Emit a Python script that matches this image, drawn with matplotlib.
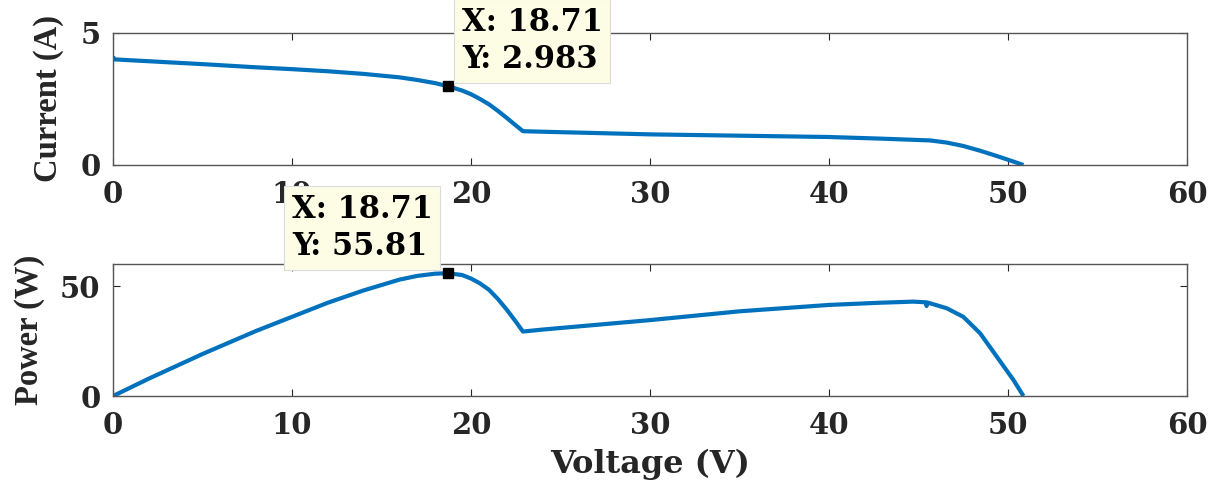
import matplotlib
matplotlib.use('Agg')
import matplotlib.pyplot as plt

# ── Data ──────────────────────────────────────────────────────────────────────

voltage_i = [0.0, 0.08, 2, 5, 8, 10, 12, 14, 16, 17, 18, 18.71, 19.5, 20, 20.5,
             21, 21.5, 22, 22.5, 22.9, 24, 30, 35, 40, 42.85, 45.65, 46.57,
             47.5, 48.44, 49.37, 50.3, 50.86]
current = [4.1, 4.0, 3.93, 3.82, 3.70, 3.63, 3.55, 3.45, 3.32, 3.22, 3.10,
           2.983, 2.82, 2.68, 2.50, 2.30, 2.05, 1.78, 1.50, 1.28, 1.26, 1.16,
           1.11, 1.06, 1.0, 0.93, 0.85, 0.72, 0.54, 0.34, 0.13, 0.0]

voltage_p = [0.0, 2, 5, 8, 10, 12, 14, 16, 17, 18, 18.71, 19.5, 20, 20.5, 21,
             21.5, 22, 22.5, 22.9, 24, 30, 35, 40, 42.85, 44.7, 45.4, 45.45,
             45.5, 46.57, 47.5, 48.44, 49.37, 50.3, 50.86]
power = [0.0, 7.9, 19.1, 29.6, 36.0, 42.4, 48.0, 52.9, 54.6, 55.6, 55.81,
         55.0, 53.4, 51.2, 48.3, 44.1, 39.2, 33.8, 29.3, 30.2, 34.5, 38.5,
         41.4, 42.4, 42.9, 42.6, 40.9, 42.5, 39.9, 36.0, 28.5, 17.9, 7.3, 0.0]

tip_v = 18.71
tip_i = 2.983
tip_p = 55.81

xticks = [0, 10, 20, 30, 40, 50, 60]

# ── Style ─────────────────────────────────────────────────────────────────────

LINE_COLOR = '#0072BD'
AXIS_COLOR = '#262626'
TIP_BG = '#fdfde6'
FONT = 'DejaVu Serif'
LABEL_FONT = 'Liberation Serif'

plt.rcParams.update({
    'font.family': FONT,
    'font.weight': 'bold',
    'font.size': 21,
    'axes.linewidth': 1.0,
    'axes.edgecolor': '#555555',
    'xtick.color': AXIS_COLOR,
    'ytick.color': AXIS_COLOR,
    'xtick.direction': 'in',
    'ytick.direction': 'in',
    'xtick.top': True,
    'ytick.right': True,
    'xtick.major.size': 5,
    'ytick.major.size': 5,
    'xtick.major.pad': 11,
    'ytick.major.pad': 9,
})

fig = plt.figure(figsize=(12.18, 4.88), dpi=100)
ax1 = fig.add_axes([0.0928, 0.6619, 0.8818, 0.2705])
ax2 = fig.add_axes([0.0928, 0.1885, 0.8818, 0.2705])


def datatip(ax, x, y, label, offset, ha):
    ax.plot([x], [y], marker='s', ms=7, color='black', zorder=5, clip_on=False)
    ax.annotate(label, xy=(x, y), xytext=offset, textcoords='offset points',
                ha=ha, va='bottom', multialignment='left', fontsize=22,
                fontweight='bold', color='black', linespacing=1.25, zorder=10,
                annotation_clip=False,
                bbox=dict(boxstyle='square,pad=0.25', fc=TIP_BG,
                          ec='#dcdcdc', lw=0.8))


# ── Current ───────────────────────────────────────────────────────────────────

ax1.plot(voltage_i, current, color=LINE_COLOR, lw=3, solid_capstyle='butt')
ax1.set_xlim(0, 60)
ax1.set_ylim(0, 5)
ax1.set_yticks([0, 5])
ax1.set_xticks(xticks)
ax1.set_ylabel('Current (A)', fontsize=23.5, fontweight='bold',
               family=LABEL_FONT, color=AXIS_COLOR)
ax1.yaxis.set_label_coords(-0.046, 0.5)
datatip(ax1, tip_v, tip_i, f'X: {tip_v}\nY: {tip_i}', (10, 8), 'left')

# ── Power ─────────────────────────────────────────────────────────────────────

ax2.plot(voltage_p, power, color=LINE_COLOR, lw=3, solid_capstyle='butt')
ax2.set_xlim(0, 60)
ax2.set_ylim(0, 60)
ax2.set_yticks([0, 50])
ax2.set_xticks(xticks)
ax2.set_ylabel('Power (W)', fontsize=23.5, fontweight='bold',
               family=LABEL_FONT, color=AXIS_COLOR)
ax2.yaxis.set_label_coords(-0.063, 0.5)
ax2.set_xlabel('Voltage (V)', fontsize=23, fontweight='bold', color=AXIS_COLOR)
ax2.xaxis.set_label_coords(0.5, -0.40)
datatip(ax2, tip_v, tip_p, f'X: {tip_v}\nY: {tip_p}', (-11, 8), 'right')

for ax in (ax1, ax2):
    for lbl in ax.get_xticklabels() + ax.get_yticklabels():
        lbl.set_fontweight('bold')

fig.savefig('out.png', dpi=100)
